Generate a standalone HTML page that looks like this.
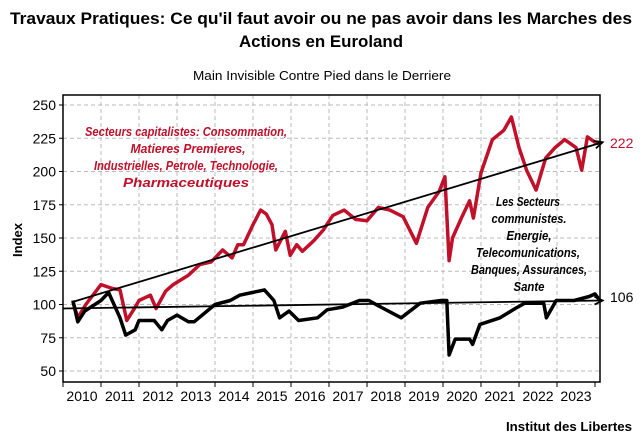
<!DOCTYPE html>
<html><head><meta charset="utf-8">
<style>
body{margin:0;background:#fff;}
svg{display:block;font-family:"Liberation Sans",sans-serif;}
</style></head>
<body>
<svg id="chart" width="642" height="446" viewBox="0 0 642 446" xmlns="http://www.w3.org/2000/svg">
<text x="321" y="24" text-anchor="middle" font-size="17" font-weight="bold" textLength="622" lengthAdjust="spacingAndGlyphs">Travaux Pratiques: Ce qu'il faut avoir ou ne pas avoir dans les Marches des</text>
<text x="321" y="47" text-anchor="middle" font-size="17" font-weight="bold" textLength="164" lengthAdjust="spacingAndGlyphs">Actions en Euroland</text>
<text x="322" y="80" text-anchor="middle" font-size="13" textLength="258" lengthAdjust="spacingAndGlyphs">Main Invisible Contre Pied dans le Derriere</text>
<text transform="translate(22,240) rotate(-90)" text-anchor="middle" font-size="13" font-weight="bold">Index</text>
<text x="632" y="431" text-anchor="end" font-size="13" font-weight="bold" textLength="126" lengthAdjust="spacingAndGlyphs">Institut des Libertes</text>
<g id="grid"></g>
<g id="axes"></g>
<g id="series"></g>
<g fill="#c0102a" font-size="13" font-weight="bold" font-style="italic" text-anchor="middle" lengthAdjust="spacingAndGlyphs">
<text x="186" y="136" textLength="202" lengthAdjust="spacingAndGlyphs">Secteurs capitalistes: Consommation,</text>
<text x="188" y="153" textLength="115" lengthAdjust="spacingAndGlyphs">Matieres Premieres,</text>
<text x="186" y="170" textLength="184" lengthAdjust="spacingAndGlyphs">Industrielles, Petrole, Technologie,</text>
<text x="186" y="187" textLength="126" lengthAdjust="spacingAndGlyphs">Pharmaceutiques</text>
</g>
<g fill="#000" font-size="13" font-weight="bold" font-style="italic" text-anchor="middle">
<text x="528" y="206" textLength="64" lengthAdjust="spacingAndGlyphs">Les Secteurs</text>
<text x="529" y="223" textLength="75" lengthAdjust="spacingAndGlyphs">communistes.</text>
<text x="529" y="240" textLength="45" lengthAdjust="spacingAndGlyphs">Energie,</text>
<text x="528" y="257" textLength="104" lengthAdjust="spacingAndGlyphs">Telecomunications,</text>
<text x="529" y="274" textLength="116" lengthAdjust="spacingAndGlyphs">Banques, Assurances,</text>
<text x="529" y="291" textLength="31" lengthAdjust="spacingAndGlyphs">Sante</text>
</g>
<text x="610" y="148" font-size="14" fill="#c0102a">222</text>
<text x="610" y="302" font-size="14" fill="#000">106</text>
</svg>
<script>
const yTicks=[50,75,100,125,150,175,200,225,250];
const years=[2010,2011,2012,2013,2014,2015,2016,2017,2018,2019,2020,2021,2022,2023];
const redT=[2010.26,2010.39,2010.6,2011.0,2011.3,2011.5,2011.68,2011.9,2012.0,2012.3,2012.45,2012.7,2012.9,2013.3,2013.6,2013.9,2014.2,2014.45,2014.6,2014.75,2015.0,2015.2,2015.35,2015.5,2015.6,2015.85,2015.98,2016.15,2016.3,2016.6,2016.85,2017.1,2017.4,2017.7,2018.0,2018.3,2018.6,2018.95,2019.3,2019.6,2019.9,2020.05,2020.16,2020.25,2020.5,2020.7,2020.8,2021.0,2021.3,2021.6,2021.8,2022.0,2022.2,2022.45,2022.7,2022.95,2023.2,2023.5,2023.65,2023.8,2024.0,2024.1];
const redV=[102,90,100,115,112,111,88,98,103,107,97,110,115,122,130,132,141,135,145,145,160,171,168,160,141,155,137,145,140,148,156,167,171,164,163,173,171,166,146,173,185,196,133,150,166,178,165,199,224,231,241,218,201,186,210,218,224,218,201,226,222,221];
const blkT=[2010.26,2010.39,2010.57,2011.0,2011.2,2011.5,2011.65,2011.9,2012.0,2012.4,2012.6,2012.75,2013.0,2013.3,2013.45,2014.0,2014.4,2014.65,2015.3,2015.55,2015.7,2015.95,2016.2,2016.7,2016.95,2017.35,2017.8,2018.05,2018.3,2018.9,2019.4,2019.95,2020.1,2020.16,2020.32,2020.7,2020.78,2020.97,2021.5,2021.9,2022.15,2022.65,2022.72,2022.98,2023.45,2023.85,2024.0,2024.1];
const blkV=[103,87,95,103,109,90,77,81,88,88,81,88,92,87,87,100,103,107,111,103,90,95,88,90,96,98,103,103,99,90,101,103,103,62,74,74,70,85,90,97,101,101,90,103,103,106,108,104];
const redTrend=[[2010.26,102],[2024.2,222]];
const blkTrend=[[2010.0,97],[2024.2,103]];
const NS='http://www.w3.org/2000/svg';
const L=63,R=600,T=95,B=382;
const xS=t=>L+(t-2010)*38;
const yS=v=>304.5-(v-100)*1.33;
function mk(tag,attrs,parent){const e=document.createElementNS(NS,tag);for(const k in attrs)e.setAttribute(k,attrs[k]);parent.appendChild(e);return e;}
const grid=document.getElementById('grid'),axes=document.getElementById('axes'),ser=document.getElementById('series');
yTicks.forEach(v=>{const y=yS(v);
 const g=mk('line',{x1:L,x2:R,y1:y,y2:y,stroke:'#bbb','stroke-dasharray':'4,3'},grid);
 
 
 const tk=mk('line',{x1:L-4,x2:L,y1:y,y2:y,stroke:'#000'},axes);
 
 
 const t=mk('text',{x:L-7,y:y+5,'text-anchor':'end','font-size':'14'},axes);t.textContent=v;
 
 
});
years.concat([2024]).forEach(yr=>{const x=xS(yr);
 if(yr>2010&&yr<2024){const g=mk('line',{x1:x,x2:x,y1:T,y2:B,stroke:'#bbb','stroke-dasharray':'4,3'},grid);
 
 }
 const tk=mk('line',{x1:x,x2:x,y1:B,y2:B+5,stroke:'#000'},axes);
 
 
 if(yr<2024){const t=mk('text',{x:x+19,y:B+19,'text-anchor':'middle','font-size':'14'},axes);t.textContent=yr;
 
 }
});
const frame=mk('rect',{x:L,y:T,width:R-L,height:B-T,fill:'none',stroke:'#000','stroke-width':'1.5'},axes);


function pts(ts,vs){return ts.map((t,i)=>xS(t).toFixed(1)+','+yS(vs[i]).toFixed(1)).join(' ');}
const r=mk('polyline',{points:pts(redT,redV),fill:'none',stroke:'#c0102a','stroke-width':'3.5','stroke-linejoin':'round'},ser);


const b=mk('polyline',{points:pts(blkT,blkV),fill:'none',stroke:'#000','stroke-width':'3.5','stroke-linejoin':'round'},ser);


[[redTrend,'capitalist-trend-arrow'],[blkTrend,'communist-trend-arrow']].forEach(([tr,nm])=>{
 const x1=xS(tr[0][0]),y1=yS(tr[0][1]),x2=xS(tr[1][0]),y2=yS(tr[1][1]);
 const g=mk('g',{},ser);
 
 
 mk('line',{x1,y1,x2,y2,stroke:'#000','stroke-width':'1.8'},g);
 const a=Math.atan2(y2-y1,x2-x1),s=9;
 const p1=[x2-s*Math.cos(a-0.45),y2-s*Math.sin(a-0.45)],p2=[x2-s*Math.cos(a+0.45),y2-s*Math.sin(a+0.45)];
 mk('polyline',{points:p1.join(',')+' '+x2+','+y2+' '+p2.join(','),fill:'none',stroke:'#000','stroke-width':'1.8'},g);
});
</script>
</body></html>
